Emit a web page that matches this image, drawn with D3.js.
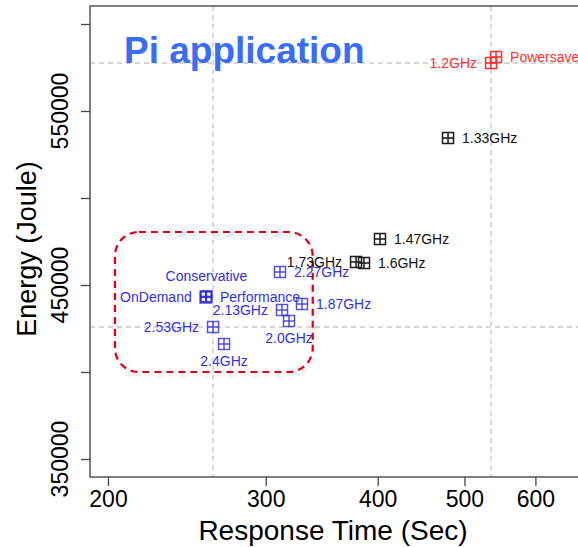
<!DOCTYPE html>
<html>
<head>
<meta charset="utf-8">
<script src="https://cdn.jsdelivr.net/npm/d3@7"></script>
<style>
  body { margin: 0; background: #fff; }
  text { font-family: "Liberation Sans", Arial, sans-serif; }
</style>
</head>
<body>
<svg id="chart" width="578" height="547"></svg>
<script>
// data
const labels = ["Powersave", "1.2GHz", "1.33GHz", "1.47GHz", "1.6GHz", "1.73GHz",
    "1.87GHz", "2.0GHz", "2.13GHz", "2.27GHz", "2.4GHz", "2.53GHz",
    "OnDemand", "Conservative", "Performance"];
const respTime = [542.3, 535.3, 479.3, 402.4, 386.2, 378.4,
    329.3, 318.5, 312.8, 311.2, 269.5, 262.0,
    257.1, 257.6, 257.3];
const energy = [581040, 577580, 534480, 476430, 462640, 463220,
    439080, 429310, 435630, 457470, 416090, 425860,
    442900, 443500, 443100];
const group = ["low", "low", "mid", "mid", "mid", "mid",
    "high", "high", "high", "high", "high", "high",
    "high", "high", "high"];
const labelSide = ["right", "left", "right", "right", "right", "left",
    "right", "below", "left", "right", "below", "left",
    "left", "above", "right"];
const xTicks = [200, 300, 400, 500, 600];
const yTicks = [350000, 400000, 450000, 500000, 550000, 600000];
const yTickLabels = [350000, 450000, 550000];
// highlighted region (response time, energy)
const boxTime = [203.6, 338.5];
const boxEnergy = [400000, 480460];
// reference lines go through these points
const refPoints = ["2.53GHz", "1.2GHz"];

const colors = { low: "#ff2a2a", mid: "#1a1a1a", high: "#2b2bd8" };
const textColors = { low: "#ff3030", mid: "#111", high: "#3030ee" };

const svg = d3.select("#chart");
const plotL = 90, plotT = 6, plotB = 477, plotR = 600;

const x = d3.scaleLog().domain([200, 600]).range([108, 535.4]);
const y = d3.scaleLinear().domain([350000, 600000]).range([459, 24]);

const pts = labels.map((l, i) => ({ label: l, t: respTime[i], e: energy[i], g: group[i], side: labelSide[i] }));

// drop shadow for the highlight box
const defs = svg.append("defs");
defs.append("filter").attr("id", "shadow")
    .attr("x", "-10%").attr("y", "-10%").attr("width", "130%").attr("height", "130%")
    .append("feDropShadow")
    .attr("dx", 2).attr("dy", 2).attr("stdDeviation", 2)
    .attr("flood-color", "#000").attr("flood-opacity", 0.18);

// reference lines
refPoints.forEach(name => {
    const p = pts.find(d => d.label === name);
    svg.append("line")
        .attr("x1", x(p.t)).attr("x2", x(p.t))
        .attr("y1", plotT).attr("y2", plotB)
        .attr("stroke", "#c8c8c8").attr("stroke-width", 1.3)
        .attr("stroke-dasharray", "5,4");
    svg.append("line")
        .attr("x1", plotL).attr("x2", plotR)
        .attr("y1", y(p.e)).attr("y2", y(p.e))
        .attr("stroke", "#c8c8c8").attr("stroke-width", 1.3)
        .attr("stroke-dasharray", "5,4");
});

// plot box
svg.append("rect")
    .attr("x", plotL).attr("y", plotT)
    .attr("width", plotR - plotL).attr("height", plotB - plotT)
    .attr("fill", "none").attr("stroke", "#555").attr("stroke-width", 1.5);

// x axis
const xAxis = svg.append("g")
    .attr("transform", `translate(0,${plotB})`)
    .call(d3.axisBottom(x).tickValues(xTicks).tickSize(9).tickPadding(5).tickFormat(d3.format("d")));
xAxis.select(".domain").remove();
xAxis.selectAll(".tick line").attr("stroke", "#444").attr("stroke-width", 1.3);
xAxis.selectAll(".tick text")
    .attr("font-family", "Liberation Sans, Arial, sans-serif")
    .attr("font-size", 23).attr("fill", "#000");

// y axis
const yAxis = svg.append("g")
    .attr("transform", `translate(${plotL},0)`)
    .call(d3.axisLeft(y).tickValues(yTicks).tickSize(9).tickFormat(""));
yAxis.select(".domain").remove();
yAxis.selectAll(".tick line").attr("stroke", "#444").attr("stroke-width", 1.3);

svg.selectAll(".ylab")
    .data(yTickLabels)
    .join("text")
    .attr("class", "ylab")
    .attr("transform", d => `translate(68,${y(d)}) rotate(-90)`)
    .attr("text-anchor", "middle")
    .attr("font-size", 23)
    .attr("fill", "#000")
    .text(d => d);

// axis titles
svg.append("text")
    .attr("x", 333).attr("y", 540)
    .attr("text-anchor", "middle")
    .attr("font-size", 28)
    .text("Response Time (Sec)");

svg.append("text")
    .attr("transform", "translate(36,249) rotate(-90)")
    .attr("text-anchor", "middle")
    .attr("font-size", 27)
    .text("Energy (Joule)");

// highlight box
svg.append("rect")
    .attr("x", x(boxTime[0])).attr("y", y(boxEnergy[1]))
    .attr("width", x(boxTime[1]) - x(boxTime[0]))
    .attr("height", y(boxEnergy[0]) - y(boxEnergy[1]))
    .attr("rx", 24).attr("ry", 24)
    .attr("fill", "none")
    .attr("stroke", "#d8001c").attr("stroke-width", 2.2)
    .attr("stroke-dasharray", "7,5")
    .attr("filter", "url(#shadow)");

// markers: square with cross
const s = 5.5;
const marks = svg.append("g").selectAll("g")
    .data(pts)
    .join("g")
    .attr("transform", d => `translate(${x(d.t)},${y(d.e)})`)
    .attr("stroke", d => colors[d.g])
    .attr("stroke-opacity", d => d.g === "high" ? 0.8 : 1)
    .attr("stroke-width", 1.5)
    .attr("fill", "none");
marks.append("rect").attr("x", -s).attr("y", -s).attr("width", 2 * s).attr("height", 2 * s);
marks.append("line").attr("x1", -s).attr("x2", s).attr("y1", 0).attr("y2", 0);
marks.append("line").attr("x1", 0).attr("x2", 0).attr("y1", -s).attr("y2", s);

// point labels
svg.append("g").selectAll("text")
    .data(pts)
    .join("text")
    .attr("x", d => x(d.t) + (d.side === "right" ? 14 : d.side === "left" ? -14 : 0))
    .attr("y", d => y(d.e) + (d.side === "above" ? -20 : d.side === "below" ? 17 : 0))
    .attr("dy", "0.35em")
    .attr("text-anchor", d => d.side === "right" ? "start" : d.side === "left" ? "end" : "middle")
    .attr("font-size", 14)
    .attr("fill", d => textColors[d.g])
    .text(d => d.label);

// title
svg.append("text")
    .attr("x", 124).attr("y", 63)
    .attr("font-family", "Noto Sans, sans-serif")
    .attr("font-weight", 700)
    .attr("font-size", 37)
    .attr("fill", "#3a6cf4")
    .text("Pi application");
</script>
</body>
</html>
